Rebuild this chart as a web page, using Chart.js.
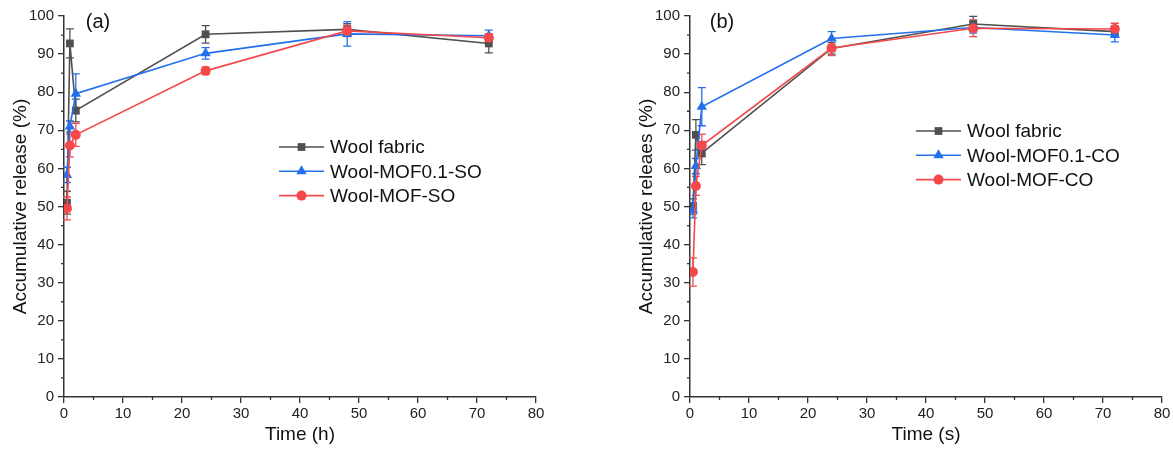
<!DOCTYPE html>
<html>
<head>
<meta charset="utf-8">
<script src="https://cdn.jsdelivr.net/npm/chart.js@4.4.1/dist/chart.umd.min.js"></script>
<style>
  body { margin: 0; background: #fff; }
  .panel { position: absolute; top: 0; }
</style>
</head>
<body>
<canvas id="chartA" class="panel" style="left:0" width="586" height="450"></canvas>
<canvas id="chartB" class="panel" style="left:626px" width="547" height="450"></canvas>
<script>
// sampling times (same for both panels)
var times = [0.5, 1, 2, 24, 48, 72];

// panel (a)
var woolA = [51, 92.8, 75.2, 95.2, 96.5, 92.8];
var woolAErr = [3, 3.8, 3, 2.3, 1.5, 2.5];
var mof01A = [58.3, 71, 79.6, 90.2, 95.3, 94.8];
var mof01AErr = [2, 1.5, 5.2, 1.5, 3.2, 1.5];
var mofA = [49.5, 66, 68.8, 85.6, 96.1, 94.3];
var mofAErr = [3, 3, 3, 1, 1.5, 1];
var labelsA = ['Wool fabric', 'Wool-MOF0.1-SO', 'Wool-MOF-SO'];

// panel (b)
var woolB = [50, 68.8, 64, 91.5, 97.9, 95.9];
var woolBErr = [2, 4, 3, 1.5, 2, 1.5];
var mof01B = [49, 60.6, 76.2, 94.1, 97, 95];
var mof01BErr = [2, 2, 5, 1.8, 1.5, 1.8];
var mofB = [32.8, 55.4, 66, 91.6, 96.8, 96.6];
var mofBErr = [3.7, 2.5, 3, 2, 2.2, 1.5];
var labelsB = ['Wool fabric', 'Wool-MOF0.1-CO', 'Wool-MOF-CO'];

var xTicks = [0, 10, 20, 30, 40, 50, 60, 70, 80];
var yTicks = [0, 10, 20, 30, 40, 50, 60, 70, 80, 90, 100];

var GREY = 'rgb(80,80,80)';
var BLUE = 'rgb(35,112,235)';
var RED = 'rgb(245,72,74)';
var FONT = '"Liberation Sans", Arial, sans-serif';
var AXIS = '#333';

function points(ys) {
    return times.map(function (t, i) { return {x: t, y: ys[i]}; });
}

function series(label, ys, errs, color, style, radius, order) {
    return {
        label: label,
        data: points(ys),
        errs: errs,
        borderColor: color,
        backgroundColor: color,
        pointBackgroundColor: color,
        pointBorderColor: color,
        pointStyle: style,
        pointRadius: radius,
        pointBorderWidth: 0,
        borderWidth: 1.6,
        showLine: true,
        tension: 0,
        order: order
    };
}

// vertical error bars with caps, drawn below the markers
var errorBars = {
    id: 'errorBars',
    beforeDatasetsDraw: function (chart) {
        var ctx = chart.ctx;
        var ys = chart.scales.y;
        ctx.save();
        chart.data.datasets.forEach(function (ds, di) {
            var meta = chart.getDatasetMeta(di);
            ctx.strokeStyle = ds.borderColor;
            ctx.lineWidth = 1.3;
            meta.data.forEach(function (pt, i) {
                var v = ds.data[i].y, e = ds.errs[i];
                var top = ys.getPixelForValue(v + e);
                var bot = ys.getPixelForValue(v - e);
                ctx.beginPath();
                ctx.moveTo(pt.x, top);
                ctx.lineTo(pt.x, bot);
                ctx.moveTo(pt.x - 4, top);
                ctx.lineTo(pt.x + 4, top);
                ctx.moveTo(pt.x - 4, bot);
                ctx.lineTo(pt.x + 4, bot);
                ctx.stroke();
            });
        });
        ctx.restore();
    }
};

// minor ticks, panel letter and in-plot legend
var decorations = {
    id: 'decorations',
    afterDraw: function (chart, args, opts) {
        var ctx = chart.ctx;
        var xs = chart.scales.x, ys = chart.scales.y;
        var area = chart.chartArea;
        ctx.save();
        ctx.strokeStyle = AXIS;
        ctx.lineWidth = 1.3;
        ctx.beginPath();
        for (var mx = 5; mx < 80; mx += 10) {
            var px = xs.getPixelForValue(mx);
            ctx.moveTo(px, area.bottom);
            ctx.lineTo(px, area.bottom + 3);
        }
        for (var my = 5; my < 100; my += 10) {
            var py = ys.getPixelForValue(my);
            ctx.moveTo(area.left, py);
            ctx.lineTo(area.left - 3, py);
        }
        ctx.stroke();

        ctx.fillStyle = '#111';
        ctx.font = '20px ' + FONT;
        ctx.textAlign = 'center';
        ctx.textBaseline = 'middle';
        ctx.fillText(opts.letter, opts.letterX, 22);

        ctx.font = '19px ' + FONT;
        ctx.textAlign = 'left';
        chart.data.datasets.forEach(function (ds, i) {
            var y = opts.legendY + i * 24.3;
            ctx.strokeStyle = ds.borderColor;
            ctx.lineWidth = 1.6;
            ctx.beginPath();
            ctx.moveTo(opts.legendX, y);
            ctx.lineTo(opts.legendX + 45, y);
            ctx.stroke();
            ctx.fillStyle = ds.borderColor;
            Chart.helpers.drawPoint(ctx, {
                pointStyle: ds.pointStyle,
                radius: ds.pointRadius,
                rotation: 0,
                borderWidth: 0
            }, opts.legendX + 22.5, y);
            ctx.fillStyle = '#111';
            ctx.fillText(ds.label, opts.legendX + 51, y + 1);
        });
        ctx.restore();
    }
};

function makePanel(id, labels, sets, xTitle, yTitle, deco) {
    new Chart(document.getElementById(id), {
        type: 'line',
        data: {
            datasets: [
                series(labels[0], sets[0], sets[1], GREY, 'rect', 5.5, 2),
                series(labels[1], sets[2], sets[3], BLUE, 'triangle', 6, 1),
                series(labels[2], sets[4], sets[5], RED, 'circle', 5, 0)
            ]
        },
        options: {
            responsive: false,
            animation: false,
            layout: {padding: {top: 16, right: deco.right, left: 0, bottom: 0}},
            plugins: {
                legend: {display: false},
                tooltip: {enabled: false},
                decorations: deco
            },
            scales: {
                x: {
                    type: 'linear',
                    min: 0,
                    max: 80,
                    afterBuildTicks: function (s) { s.ticks = xTicks.map(function (v) { return {value: v}; }); },
                    ticks: {font: {family: FONT, size: 15}, color: '#222', padding: 2, maxRotation: 0},
                    grid: {drawOnChartArea: false, tickLength: 6, color: AXIS, lineWidth: 1.3},
                    border: {color: AXIS, width: 1.5},
                    title: {display: true, text: xTitle, font: {family: FONT, size: 19}, color: '#111', padding: {top: 3}},
                    afterFit: function (s) { s.height = 53; }
                },
                y: {
                    type: 'linear',
                    min: 0,
                    max: 100,
                    afterBuildTicks: function (s) { s.ticks = yTicks.map(function (v) { return {value: v}; }); },
                    ticks: {font: {family: FONT, size: 15}, color: '#222', padding: 4},
                    grid: {drawOnChartArea: false, tickLength: 6, color: AXIS, lineWidth: 1.3},
                    border: {color: AXIS, width: 1.5},
                    title: {display: true, text: yTitle, font: {family: FONT, size: 19}, color: '#111', padding: {top: 9, bottom: 0}},
                    afterFit: function (s) { s.width = 64; }
                }
            }
        },
        plugins: [errorBars, decorations]
    });
}

makePanel('chartA', labelsA, [woolA, woolAErr, mof01A, mof01AErr, mofA, mofAErr],
    'Time (h)', 'Accumulative release (%)',
    {letter: '(a)', letterX: 98, legendX: 279, legendY: 147, right: 50});

makePanel('chartB', labelsB, [woolB, woolBErr, mof01B, mof01BErr, mofB, mofBErr],
    'Time (s)', 'Accumulative releaes (%)',
    {letter: '(b)', letterX: 96, legendX: 290, legendY: 131, right: 11});
</script>
</body>
</html>
